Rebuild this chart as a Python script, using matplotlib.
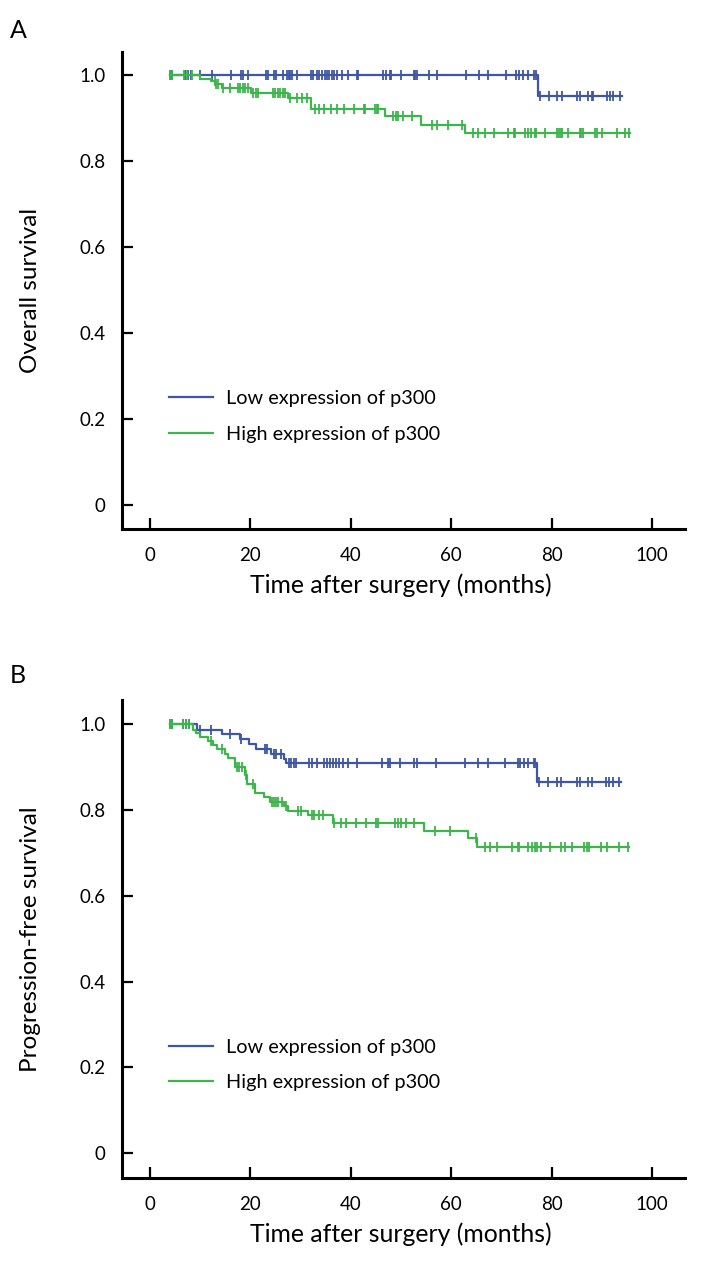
import numpy as np
import matplotlib
matplotlib.use('Agg')
import matplotlib.pyplot as plt

plt.rcParams['font.family'] = ['Lato', 'DejaVu Sans']

BLUE = '#3f55a5'
GREEN = '#3db54b'
LABELS = ['Low expression of p300', 'High expression of p300']
START = 4.0

# Panel A: overall survival
os_low_events = [77.4]
os_low_surv = [0.952]
os_low_end = 94.0
os_low_censor = [4.0, 4.2, 4.4, 7.0, 7.5, 8.1, 10.0, 12.3, 16.1, 18.2, 18.5, 19.6,
                 23.0, 23.4, 24.7, 25.0, 26.4, 27.2, 27.6, 27.9, 28.2, 29.2, 32.0,
                 32.4, 33.2, 33.7, 34.2, 34.9, 35.2, 35.7, 36.2, 36.7, 37.2, 38.2,
                 39.5, 41.2, 41.5, 46.5, 47.1, 47.8, 48.1, 50.1, 52.5, 52.8, 53.1,
                 55.5, 57.1, 62.9, 65.5, 67.4, 70.9, 73.0, 73.5, 74.4, 75.4, 76.6,
                 76.9, 77.7, 79.5, 81.1, 82.1, 85.1, 85.7, 87.3, 88.0, 88.2, 91.0,
                 91.6, 92.3, 93.6]

os_high_events = [10.0, 12.2, 13.0, 14.4, 20.2, 27.4, 32.0, 46.8, 53.9, 62.7]
os_high_surv = [0.991, 0.986, 0.978, 0.969, 0.958, 0.947, 0.921, 0.905, 0.884, 0.864]
os_high_end = 95.6
os_high_censor = [4.0, 4.3, 6.8, 7.4, 8.3, 12.9, 13.2, 13.6, 14.6, 15.9, 17.6, 17.9,
                  18.5, 18.9, 19.6, 20.6, 21.2, 21.6, 24.4, 24.9, 25.4, 25.9, 26.4,
                  26.9, 27.9, 29.2, 30.2, 31.2, 32.9, 33.7, 34.7, 36.0, 37.2, 38.6,
                  40.6, 42.6, 42.9, 44.8, 45.2, 45.5, 48.5, 49.0, 49.5, 50.5, 52.1,
                  56.1, 57.1, 59.4, 62.1, 64.3, 65.4, 66.7, 68.6, 71.4, 72.5, 72.7,
                  74.7, 75.4, 76.0, 76.7, 77.0, 78.7, 81.0, 81.5, 81.8, 82.1, 83.3,
                  85.6, 85.8, 86.2, 88.6, 89.1, 90.0, 93.0, 94.6, 95.5]

# Panel B: progression-free survival
pfs_low_events = [9.4, 14.3, 17.9, 19.8, 21.2, 24.1, 26.6, 27.1, 77.2]
pfs_low_surv = [0.988, 0.977, 0.966, 0.954, 0.942, 0.930, 0.920, 0.910, 0.865]
pfs_low_end = 93.8
pfs_low_censor = [4.0, 4.3, 6.6, 7.2, 7.8, 10.0, 12.1, 15.9, 18.1, 22.9, 23.2, 24.6,
                  25.1, 26.0, 27.6, 28.0, 28.6, 29.1, 31.7, 32.2, 33.2, 34.7, 35.2,
                  35.9, 36.5, 37.1, 37.7, 38.4, 39.5, 41.3, 46.3, 47.5, 47.8, 49.9,
                  52.5, 53.1, 57.0, 62.7, 65.3, 67.3, 70.7, 73.4, 73.7, 74.5, 75.4,
                  76.5, 76.7, 77.6, 79.3, 81.0, 81.9, 85.1, 85.7, 87.3, 88.0, 90.8,
                  91.4, 92.3, 93.5]

pfs_high_events = [8.6, 9.2, 10.0, 11.6, 12.6, 13.4, 14.9, 15.6, 17.0, 18.9, 19.3,
                   20.9, 22.6, 23.8, 26.6, 27.5, 31.5, 36.4, 54.5, 63.3, 65.2]
pfs_high_surv = [0.988, 0.979, 0.970, 0.961, 0.952, 0.942, 0.932, 0.922, 0.901,
                 0.883, 0.860, 0.840, 0.830, 0.819, 0.809, 0.797, 0.788, 0.771,
                 0.752, 0.734, 0.715]
pfs_high_end = 95.5
pfs_high_censor = [4.0, 4.3, 6.6, 7.2, 7.8, 12.1, 14.3, 17.3, 17.8, 18.3, 19.1, 20.5,
                   24.2, 24.6, 25.1, 25.5, 26.2, 27.1, 29.5, 30.1, 32.2, 32.7, 33.7,
                   34.5, 36.6, 38.0, 39.0, 41.0, 43.0, 45.1, 45.5, 48.9, 49.4, 50.1,
                   50.9, 52.6, 56.7, 59.8, 64.9, 66.8, 67.7, 69.2, 72.2, 73.3, 73.5,
                   75.3, 76.1, 76.7, 77.2, 77.9, 79.7, 81.9, 82.7, 84.1, 86.5, 87.1,
                   87.4, 89.9, 91.0, 93.5, 95.3]

x_ticks = [0, 20, 40, 60, 80, 100]
y_ticks = [0, 0.2, 0.4, 0.6, 0.8, 1.0]
y_ticklabels = ['0', '0.2', '0.4', '0.6', '0.8', '1.0']


def km_curve(ax, events, surv, end, censor, color, label):
    '''Step curve with censor ticks.'''
    t = np.r_[START, events, end]
    s = np.r_[1.0, surv, surv[-1]]
    line, = ax.step(t, s, where='post', color=color, lw=1.6, label=label)
    idx = np.searchsorted(events, censor, side='right')
    s_c = np.r_[1.0, surv][idx]
    ax.plot(censor, s_c, ls='none', marker='|', ms=7.5, mew=1.3, color=color)
    return line


def style_axes(ax, ylabel, ylim):
    for side in ['top', 'right']:
        ax.spines[side].set_visible(False)
    for side in ['left', 'bottom']:
        ax.spines[side].set_linewidth(2.2)
    ax.set_xlim(-5.6, 106.6)
    ax.set_ylim(*ylim)
    ax.set_xticks(x_ticks)
    ax.set_yticks(y_ticks)
    ax.set_yticklabels(y_ticklabels)
    ax.tick_params(direction='in', length=8, width=1.6, labelsize=13.5)
    ax.tick_params(axis='y', pad=12)
    ax.tick_params(axis='x', pad=13)
    ax.set_xlabel('Time after surgery (months)', fontsize=17.8)
    ax.xaxis.set_label_coords(0.495, -0.093)
    ax.set_ylabel(ylabel, fontsize=17.5, va='center')
    ax.yaxis.set_label_coords(-0.163, 0.5)
    ax.legend(loc='center left', bbox_to_anchor=(0.066, 0.236), frameon=False,
              fontsize=14.3, borderpad=0, handlelength=2.2, handletextpad=0.65,
              labelspacing=0.92)


fig = plt.figure(figsize=(7.04, 12.71), dpi=100)
ax1 = fig.add_axes([0.1733, 0.5838, 0.7997, 0.3753])
ax2 = fig.add_axes([0.1733, 0.0732, 0.7997, 0.3761])

km_curve(ax1, os_low_events, os_low_surv, os_low_end, os_low_censor, BLUE, LABELS[0])
km_curve(ax1, os_high_events, os_high_surv, os_high_end, os_high_censor, GREEN, LABELS[1])
style_axes(ax1, 'Overall survival', (-0.0558, 1.0535))

km_curve(ax2, pfs_low_events, pfs_low_surv, pfs_low_end, pfs_low_censor, BLUE, LABELS[0])
km_curve(ax2, pfs_high_events, pfs_high_surv, pfs_high_end, pfs_high_censor, GREEN, LABELS[1])
style_axes(ax2, 'Progression-free survival', (-0.058, 1.057))

fig.text(18 / 704, 1 - 30 / 1271, 'A', ha='center', va='center', fontsize=18)
fig.text(18 / 704, 1 - 675 / 1271, 'B', ha='center', va='center', fontsize=18)

fig.savefig('out.png', dpi=100)
